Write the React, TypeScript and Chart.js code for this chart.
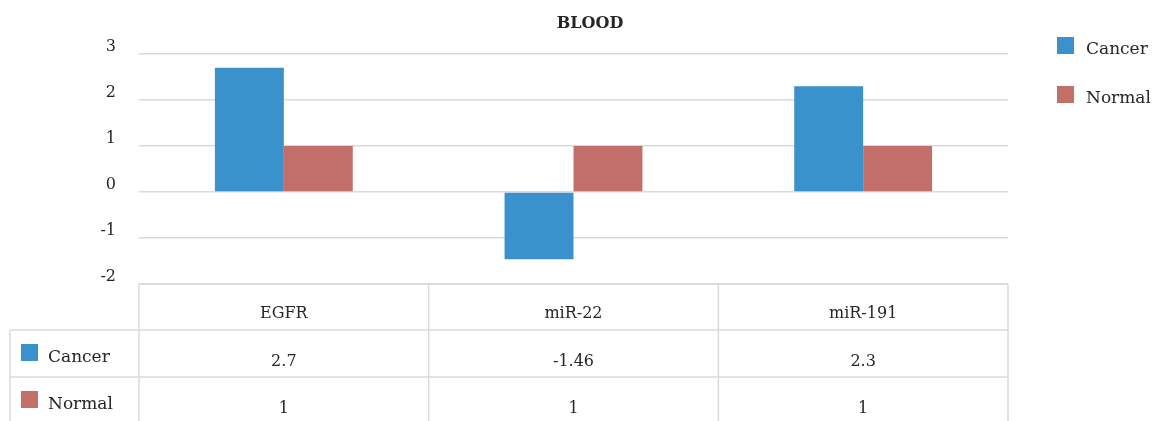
import { useEffect, useRef } from "react";
import { Chart, registerables } from "chart.js";

Chart.register(...registerables);

// Chart content
const chartTitle = "BLOOD";
const categories = ["EGFR", "miR-22", "miR-191"];
const seriesNames = ["Cancer", "Normal"];
const cancerValues = [2.7, -1.46, 2.3];
const normalValues = [1, 1, 1];
const yMin = -2;
const yMax = 3;
const yStep = 1;

const seriesColors = ["#3a91cc", "#c36f69"];
const textColor = "#262626";
const lineColor = "#d9dadf";
const serif = "'DejaVu Serif', serif";

const seriesValues = [cancerValues, normalValues];

// Draws the title, the side legend and the data table under the plot.
const decorPlugin = {
  id: "decor",
  afterDraw(chart: any) {
    const { ctx, chartArea, scales } = chart;
    const xs = scales.x;
    const W = chart.width;
    const H = chart.height;
    ctx.save();

    // title
    ctx.fillStyle = textColor;
    ctx.font = `bold 16px ${serif}`;
    ctx.textAlign = "center";
    ctx.textBaseline = "alphabetic";
    ctx.fillText(chartTitle, 590, 28);

    // legend on the right
    ctx.font = `17px ${serif}`;
    ctx.textAlign = "left";
    const legendTops = [37, 86];
    seriesNames.forEach((name, i) => {
      ctx.fillStyle = seriesColors[i];
      ctx.fillRect(1057, legendTops[i], 17, 17);
      ctx.fillStyle = textColor;
      ctx.fillText(name, 1086, legendTops[i] + 17);
    });

    // data table
    const colW = chartArea.width / categories.length;
    const tableTop = chartArea.bottom;
    const headerH = 46;
    const rowH = 47;
    const labelLeft = 10;
    const rowTops = [tableTop + headerH, tableTop + headerH + rowH];

    ctx.strokeStyle = lineColor;
    ctx.lineWidth = 1.5;
    ctx.beginPath();
    // horizontal rules
    ctx.moveTo(chartArea.left, tableTop);
    ctx.lineTo(chartArea.right, tableTop);
    rowTops.forEach((t) => {
      ctx.moveTo(labelLeft, t);
      ctx.lineTo(chartArea.right, t);
    });
    // vertical rules
    for (let i = 0; i <= categories.length; i++) {
      const x = chartArea.left + i * colW;
      ctx.moveTo(x, tableTop);
      ctx.lineTo(x, H);
    }
    ctx.moveTo(labelLeft, rowTops[0]);
    ctx.lineTo(labelLeft, H);
    ctx.stroke();

    ctx.fillStyle = textColor;
    ctx.font = `16px ${serif}`;
    ctx.textAlign = "center";
    categories.forEach((c, i) => {
      const cx = xs.getPixelForValue(i);
      ctx.fillText(c, cx, tableTop + 34);
    });

    seriesNames.forEach((name, s) => {
      const top = rowTops[s];
      ctx.fillStyle = seriesColors[s];
      ctx.fillRect(21, top + 14, 17, 17);
      ctx.fillStyle = textColor;
      ctx.font = `17px ${serif}`;
      ctx.textAlign = "left";
      ctx.fillText(name, 48, top + 32);
      ctx.font = `16px ${serif}`;
      ctx.textAlign = "center";
      seriesValues[s].forEach((v, i) => {
        ctx.fillText(String(v), xs.getPixelForValue(i), top + 36);
      });
    });

    ctx.restore();
  },
};

export default function App() {
  const canvasRef = useRef<HTMLCanvasElement | null>(null);

  useEffect(() => {
    const canvas = canvasRef.current;
    if (!canvas) return;
    const chart = new Chart(canvas, {
      type: "bar",
      data: {
        labels: categories,
        datasets: seriesNames.map((name, i) => ({
          label: name,
          data: seriesValues[i],
          backgroundColor: seriesColors[i],
          borderWidth: 0,
          barPercentage: 1,
          categoryPercentage: 0.476,
        })),
      },
      options: {
        responsive: false,
        animation: false,
        layout: { padding: { left: 0, top: 54, right: 157, bottom: 137 } },
        plugins: {
          legend: { display: false },
          title: { display: false },
          tooltip: { enabled: false },
        },
        scales: {
          x: { display: false },
          y: {
            min: yMin,
            max: yMax,
            afterFit: (scale: any) => {
              scale.width = 139;
            },
            ticks: {
              stepSize: yStep,
              padding: 23,
              labelOffset: -7,
              color: textColor,
              font: { family: serif, size: 16 },
            },
            grid: { color: lineColor, lineWidth: 1.5, drawTicks: false },
            border: { display: false },
          },
        },
      },
      plugins: [decorPlugin],
    });
    return () => chart.destroy();
  }, []);

  return (
    <div style={{ position: "fixed", left: 0, top: 0, width: 1165, height: 421, background: "#fff" }}>
      <canvas ref={canvasRef} width={1165} height={421} />
    </div>
  );
}
